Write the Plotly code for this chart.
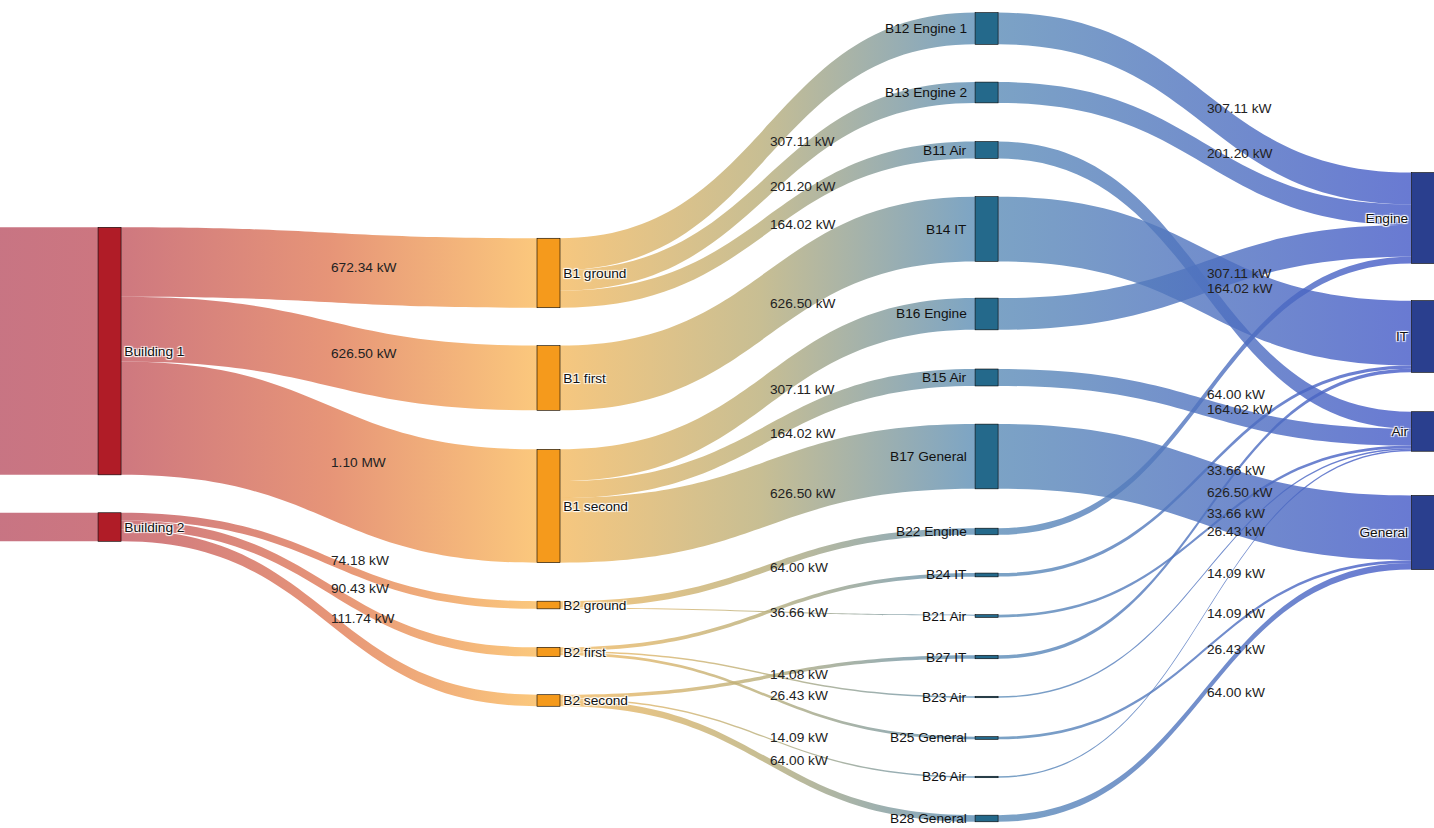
import plotly.graph_objects as go

W, H = 1434, 828

# ---------------- data ----------------
feeds = ["feed 1", "feed 2"]                      # upstream feeds, drawn off-canvas (no label)
buildings = ["Building 1", "Building 2"]
floors = ["B1 ground", "B1 first", "B1 second", "B2 ground", "B2 first", "B2 second"]
circuits = ["B12 Engine 1", "B13 Engine 2", "B11 Air", "B14 IT", "B16 Engine", "B15 Air",
            "B17 General", "B22 Engine", "B24 IT", "B21 Air", "B27 IT", "B23 Air",
            "B25 General", "B26 Air", "B28 General"]
loads = ["Engine", "IT", "Air", "General"]

link_from = ["feed 1", "feed 2",
             "Building 1", "Building 1", "Building 1",
             "Building 2", "Building 2", "Building 2",
             "B1 ground", "B1 ground", "B1 ground", "B1 first",
             "B1 second", "B1 second", "B1 second",
             "B2 ground", "B2 ground", "B2 first", "B2 first", "B2 first",
             "B2 second", "B2 second", "B2 second",
             "B12 Engine 1", "B13 Engine 2", "B11 Air", "B14 IT", "B16 Engine", "B15 Air",
             "B17 General", "B22 Engine", "B24 IT", "B21 Air", "B27 IT", "B23 Air",
             "B25 General", "B26 Air", "B28 General"]
link_to = ["Building 1", "Building 2",
           "B1 ground", "B1 first", "B1 second",
           "B2 ground", "B2 first", "B2 second",
           "B12 Engine 1", "B13 Engine 2", "B11 Air", "B14 IT",
           "B16 Engine", "B15 Air", "B17 General",
           "B22 Engine", "B21 Air", "B24 IT", "B23 Air", "B25 General",
           "B27 IT", "B26 Air", "B28 General",
           "Engine", "Engine", "Air", "IT", "Engine", "Air",
           "General", "Engine", "IT", "Air", "IT", "Air",
           "General", "Air", "General"]
link_kw = [2396.47, 276.35,
           672.34, 626.50, 1097.63,
           74.18, 90.43, 111.74,
           307.11, 201.20, 164.02, 626.50,
           307.11, 164.02, 626.50,
           64.00, 10.18, 36.66, 14.08, 26.43,
           33.66, 14.09, 64.00,
           307.11, 201.20, 164.02, 626.50, 307.11, 164.02,
           626.50, 64.00, 33.66, 26.43, 33.66, 14.09,
           26.43, 14.09, 64.00]
link_labelled = [False, False,
                 True, True, True,
                 True, True, True,
                 True, True, True, True,
                 True, True, True,
                 True, False, True, True, True,
                 False, True, True,
                 True, True, True, False, True, True,
                 True, True, True, True, True, True,
                 True, True, True]

# ---------------- layout (node centres, fraction of the plot) ----------------
col_x = {"feed": -0.014, "building": 0.0764, "floor": 0.3825, "circuit": 0.688, "load": 0.9923}
feed_y = [0.424, 0.6365]
building_y = [0.424, 0.6365]
floor_y = [0.3297, 0.4565, 0.6111, 0.7307, 0.7874, 0.8460]
circuit_y = [0.0344, 0.1117, 0.1812, 0.2766, 0.3792, 0.4559, 0.5513, 0.6419,
             0.6944, 0.7440, 0.7935, 0.8418, 0.8913, 0.9384, 0.9885]
load_y = [0.2633, 0.4064, 0.5211, 0.6431]

THICK = 23
PAD = 39.4
FONT = "Liberation Sans, Arial, sans-serif"
FSIZE = 13.7

node_ids = feeds + buildings + floors + circuits + loads
# circuit labels sit to the left of their nodes, they are added as annotations below
node_text = ["", ""] + buildings + floors + [""] * len(circuits) + loads
node_x = ([col_x["feed"]] * 2 + [col_x["building"]] * 2 + [col_x["floor"]] * 6 +
          [col_x["circuit"]] * 15 + [col_x["load"]] * 4)
node_y = feed_y + building_y + floor_y + circuit_y + load_y

node_color = (["rgba(0,0,0,0)"] * 2 + ["#b01c27"] * 2 + ["#f59a1c"] * 6 +
              ["#24698b"] * 15 + ["#2a3f8e"] * 4)
node_line = (["rgba(0,0,0,0)"] * 2 + ["#8e1520"] * 2 + ["#c77612"] * 6 +
             ["#1d5671"] * 15 + ["#223373"] * 4)

idx = {n: i for i, n in enumerate(node_ids)}
src = [idx[s] for s in link_from]
tgt = [idx[t] for t in link_to]
col_of = ([0] * 2 + [1] * 2 + [2] * 6 + [3] * 15 + [4] * 4)

# fallback solid colours (a horizontal gradient is applied on top after render)
level_color = {0: "rgba(200,105,120,0.8)", 1: "rgba(232,150,105,0.8)",
               2: "rgba(190,180,130,0.8)", 3: "rgba(105,135,200,0.8)"}
link_color = [level_color[col_of[s]] for s in src]


def fmt(v):
    return f"{v / 1000:.2f} MW" if v >= 1000 else f"{v:.2f} kW"


# ---- replicate the sankey geometry to place value labels mid-link ----
n = len(node_ids)
ins = [0.0] * n
outs = [0.0] * n
for s, t, v in zip(src, tgt, link_kw):
    outs[s] += v
    ins[t] += v
node_val = [max(a, b) for a, b in zip(ins, outs)]
cols = {}
for i, c in enumerate(col_of):
    cols.setdefault(c, []).append(i)
L = max(len(v) for v in cols.values())
py = min(PAD, (2 / 3) * H / (L - 1))
ky = min((H - (len(v) - 1) * py) / sum(node_val[i] for i in v) for v in cols.values())

cx = [x * W for x in node_x]
cy = [y * H for y in node_y]
y0 = [cy[i] - node_val[i] * ky / 2 for i in range(n)]
x0 = [cx[i] - THICK / 2 for i in range(n)]
x1 = [cx[i] + THICK / 2 for i in range(n)]

widths = [v * ky for v in link_kw]
sy = [0.0] * len(src)
ty = [0.0] * len(src)
for i in range(n):
    outl = sorted([k for k in range(len(src)) if src[k] == i], key=lambda k: (y0[tgt[k]], k))
    acc = y0[i]
    for k in outl:
        sy[k] = acc + widths[k] / 2
        acc += widths[k]
    inl = sorted([k for k in range(len(src)) if tgt[k] == i], key=lambda k: (y0[src[k]], k))
    acc = y0[i]
    for k in inl:
        ty[k] = acc + widths[k] / 2
        acc += widths[k]

# value labels: start at the horizontal middle of each link, vertically centred on it
labels = {}
for k in range(len(src)):
    if not link_labelled[k]:
        continue
    mx = (x1[src[k]] + x0[tgt[k]]) / 2
    my = (sy[k] + ty[k]) / 2
    labels.setdefault(col_of[src[k]], []).append([my, mx, fmt(link_kw[k])])

# keep stacked labels readable (small vertical separation inside one gap)
MIN_GAP = 15
for c, items in labels.items():
    items.sort(key=lambda r: r[0])
    for _ in range(30):
        moved = False
        for a, b in zip(items, items[1:]):
            d = b[0] - a[0]
            if d < MIN_GAP:
                shift = (MIN_GAP - d) / 2
                a[0] -= shift
                b[0] += shift
                moved = True
        if not moved:
            break

annotations = []
for c, items in labels.items():
    for my, mx, txt in items:
        annotations.append(dict(
            x=mx / W, y=1 - my / H, xref="paper", yref="paper",
            xanchor="left", yanchor="middle", showarrow=False, text=txt,
            font=dict(family=FONT, size=FSIZE, color="#222222"),
        ))

for name in circuits:
    i = idx[name]
    annotations.append(dict(
        x=(x0[i] - 6) / W, y=1 - cy[i] / H, xref="paper", yref="paper",
        xanchor="right", yanchor="middle", showarrow=False, text=name,
        font=dict(family=FONT, size=FSIZE, color="#111111"),
    ))

fig = go.Figure(go.Sankey(
    arrangement="fixed",
    node=dict(
        label=node_text,
        x=node_x, y=node_y,
        pad=PAD, thickness=THICK,
        color=node_color,
        line=dict(color=node_line, width=0.6),
        hoverinfo="skip",
    ),
    link=dict(source=src, target=tgt, value=link_kw, color=link_color, hoverinfo="skip"),
    textfont=dict(family=FONT, size=FSIZE, color="#111111"),
))

fig.update_layout(
    width=W, height=H,
    margin=dict(l=0, r=0, t=0, b=0),
    paper_bgcolor="white", plot_bgcolor="white",
    annotations=annotations,
    showlegend=False,
)

# horizontal colour gradient along the flows (red -> orange -> teal -> blue)
grad_offsets = [0.0, 0.075, 0.23, 0.375, 0.53, 0.68, 1.0]
grad_colors = ["rgb(186,82,100)", "rgb(192,84,96)", "rgb(224,122,86)", "rgb(250,186,92)",
               "rgb(186,174,120)", "rgb(92,142,182)", "rgb(66,86,200)"]
stops_js = ",".join(f"[{o},'{c}']" for o, c in zip(grad_offsets, grad_colors))

post = """
document.body.style.margin = '0';
document.body.style.overflow = 'hidden';
var gd = document.getElementById('{plot_id}');
function applyGrad(){
  var svg = gd.querySelector('.main-svg');
  if(!svg) return;
  var ns = 'http://www.w3.org/2000/svg';
  if(!document.getElementById('flowgrad')){
    var defs = svg.querySelector('defs');
    if(!defs){ defs = document.createElementNS(ns,'defs'); svg.insertBefore(defs, svg.firstChild); }
    var g = document.createElementNS(ns,'linearGradient');
    g.setAttribute('id','flowgrad');
    g.setAttribute('gradientUnits','userSpaceOnUse');
    g.setAttribute('x1','0'); g.setAttribute('y1','0');
    g.setAttribute('x2','""" + str(W) + """'); g.setAttribute('y2','0');
    var stops = [""" + stops_js + """];
    stops.forEach(function(s){
      var st = document.createElementNS(ns,'stop');
      st.setAttribute('offset', s[0]);
      st.setAttribute('stop-color', s[1]);
      g.appendChild(st);
    });
    defs.appendChild(g);
  }
  gd.querySelectorAll('.sankey-link').forEach(function(p){ p.style.fill = 'url(#flowgrad)'; });
}
applyGrad();
setTimeout(applyGrad, 200);
setTimeout(applyGrad, 800);
"""

fig.write_html("out.html", post_script=post, config={"displayModeBar": False})
